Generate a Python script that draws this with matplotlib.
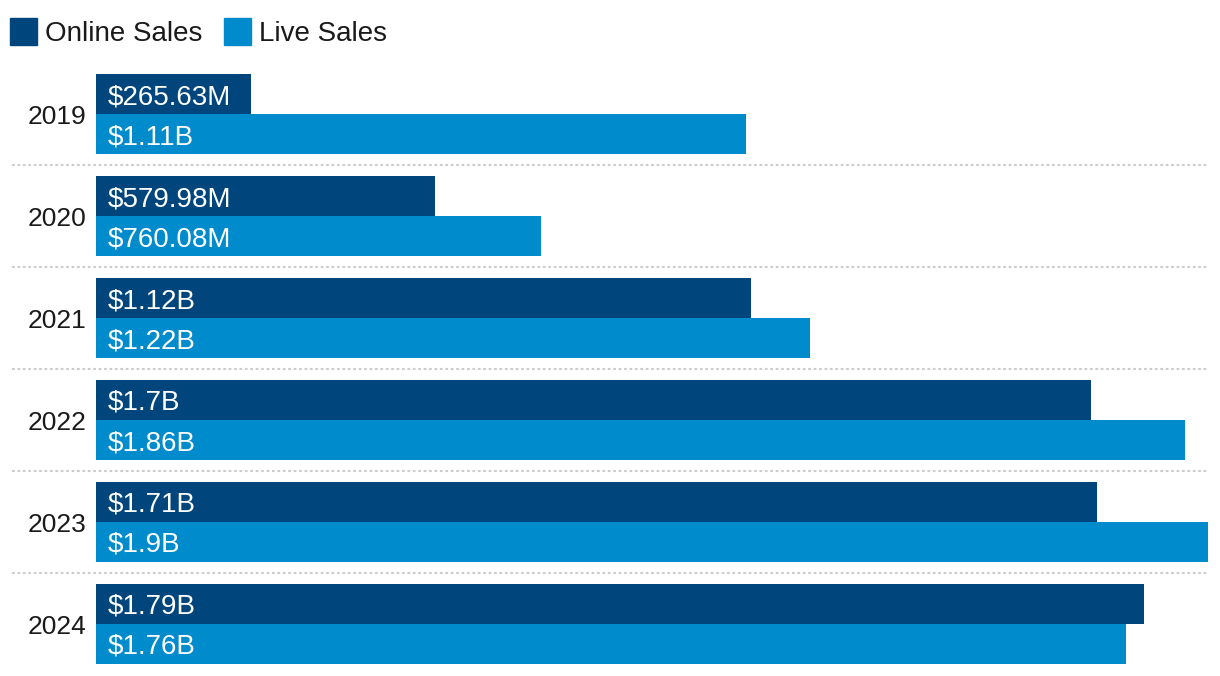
import matplotlib
matplotlib.use("Agg")
from matplotlib import pyplot as plt
from matplotlib.patches import Rectangle
import numpy as np

years = ["2019", "2020", "2021", "2022", "2023", "2024"]
online = [0.26563, 0.57998, 1.12, 1.70, 1.71, 1.79]
live = [1.11, 0.76008, 1.22, 1.86, 1.90, 1.76]
online_labels = ["$265.63M", "$579.98M", "$1.12B", "$1.7B", "$1.71B", "$1.79B"]
live_labels = ["$1.11B", "$760.08M", "$1.22B", "$1.86B", "$1.9B", "$1.76B"]

dark = "#00457C"
light = "#008BCD"
plt.rcParams["font.family"] = ["Liberation Sans", "DejaVu Sans"]
fs = 20

W, H = 1220, 676
fig = plt.figure(figsize=(W / 100, H / 100), dpi=100)
# axes: x from 96 to 1208 px, y from 63 to 675 px (top-down)
ax = fig.add_axes([96 / W, (H - 675) / H, (1208 - 96) / W, (675 - 63) / H])

bh = 40 / 102
y = np.arange(len(years))
ax.barh(y - bh, online, height=bh, align="edge", color=dark)
ax.barh(y, live, height=bh, align="edge", color=light)
ax.set_xlim(0, 1.9)
ax.set_ylim(len(years) - 0.5, -0.5)

for i in range(len(years)):
    ax.annotate(online_labels[i], (0, i - bh / 2), xytext=(8.6, 0), textcoords="offset points",
                ha="left", va="center_baseline", color="white", fontsize=fs)
    ax.annotate(live_labels[i], (0, i + bh / 2), xytext=(8.6, 0), textcoords="offset points",
                ha="left", va="center_baseline", color="white", fontsize=fs)

# dotted separators between groups
for i in range(len(years) - 1):
    ax.axhline(i + 0.5, xmin=-84 / 1112, xmax=1.0, color="#CCCCCC", lw=1.5,
               linestyle=(0, (1.3, 1.3)), clip_on=False, zorder=0)

ax.set_yticks(y)
ax.set_yticklabels(years, fontsize=19, color="#1a1a1a", va="center_baseline")
ax.tick_params(axis="y", length=0, pad=7)
ax.set_xticks([])
for s in ax.spines.values():
    s.set_visible(False)

# legend
fig.patches.append(Rectangle((10 / W, (H - 45) / H), 27 / W, 27 / H, transform=fig.transFigure, color=dark))
fig.text(45 / W, (H - 31) / H, "Online Sales", fontsize=fs, va="center_baseline", ha="left", color="#1a1a1a")
fig.patches.append(Rectangle((224 / W, (H - 45) / H), 27 / W, 27 / H, transform=fig.transFigure, color=light))
fig.text(259 / W, (H - 31) / H, "Live Sales", fontsize=fs, va="center_baseline", ha="left", color="#1a1a1a")

fig.savefig("out.png", dpi=100)
